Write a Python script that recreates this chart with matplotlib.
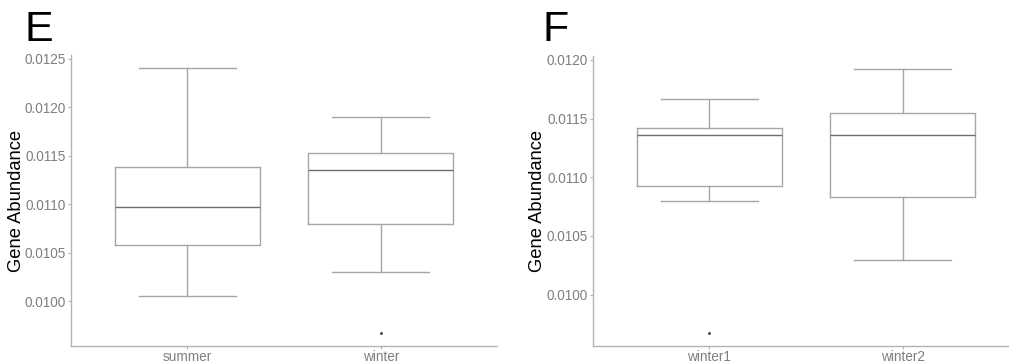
import matplotlib
matplotlib.use("Agg")
import matplotlib.pyplot as plt
from matplotlib.ticker import FormatStrFormatter

plt.rcParams['font.family'] = ['Liberation Sans', 'DejaVu Sans']

# panel E: summer vs winter
e_groups = ["summer", "winter"]
e_whislo = [0.010052, 0.010297]
e_q1 = [0.010578, 0.010792]
e_med = [0.010974, 0.011350]
e_q3 = [0.011381, 0.011532]
e_whishi = [0.012404, 0.011904]
e_fliers = [[], [0.009673]]
e_yticks = [0.0100, 0.0105, 0.0110, 0.0115, 0.0120, 0.0125]

# panel F: winter1 vs winter2
f_groups = ["winter1", "winter2"]
f_whislo = [0.010794, 0.010298]
f_q1 = [0.010925, 0.010828]
f_med = [0.011356, 0.011356]
f_q3 = [0.011419, 0.011546]
f_whishi = [0.011666, 0.011921]
f_fliers = [[0.009674], []]
f_yticks = [0.0100, 0.0105, 0.0110, 0.0115, 0.0120]

BOX = "#a6a6a6"
MED = "#6e6e6e"
AX = "#b3b3b3"
TXT = "#7f7f7f"

W, H = 1009, 363
fig = plt.figure(figsize=(W / 100, H / 100), dpi=100)


def panel(rect, groups, lo, q1, med, q3, hi, fl, yticks, letter, lx):
    ax = fig.add_axes(rect)
    stats = []
    for g, a, b, c, d, e, f in zip(groups, lo, q1, med, q3, hi, fl):
        stats.append(dict(label=g, whislo=a, q1=b, med=c, q3=d, whishi=e, fliers=f))
    ax.bxp(stats, positions=[1, 2], widths=0.75, capwidths=0.5,
           boxprops=dict(color=BOX, lw=1),
           whiskerprops=dict(color=BOX, lw=1),
           capprops=dict(color=BOX, lw=1),
           medianprops=dict(color=MED, lw=1),
           flierprops=dict(marker='o', markersize=1.2, markerfacecolor='#555555',
                           markeredgecolor='#555555'))
    # ggplot-like 5% padding around the data
    allv = lo + hi + [v for f in fl for v in f]
    rng = max(allv) - min(allv)
    ax.set_ylim(min(allv) - 0.05 * rng, max(allv) + 0.05 * rng)
    ax.set_xlim(0.4, 2.6)
    ax.set_yticks(yticks)
    ax.yaxis.set_major_formatter(FormatStrFormatter('%.4f'))
    ax.set_xticks([1, 2])
    ax.set_xticklabels(groups)
    for s in ['top', 'right']:
        ax.spines[s].set_visible(False)
    for s in ['left', 'bottom']:
        ax.spines[s].set_color(AX)
        ax.spines[s].set_linewidth(1)
    ax.tick_params(colors=AX, labelcolor=TXT, labelsize=9.8, length=2, width=0.8, pad=2)
    ax.tick_params(axis='x', pad=1)
    ax.patch.set_visible(False)
    fig.text(rect[0] - 55 / W, rect[1] + rect[3] / 2, "Gene Abundance", rotation=90,
             ha='center', va='center', fontsize=13.2, color='black')
    fig.text(lx / W, 1 - 41 / H, letter, fontsize=31, color='black', ha='left', va='baseline')
    return ax


ax1 = panel([71 / W, 1 - 346 / H, 426 / W, 291 / H], e_groups, e_whislo, e_q1, e_med,
            e_q3, e_whishi, e_fliers, e_yticks, "E", 25)
ax2 = panel([593 / W, 1 - 346 / H, 426 / W, 290 / H], f_groups, f_whislo, f_q1, f_med,
            f_q3, f_whishi, f_fliers, f_yticks, "F", 543)

fig.savefig("out.png", dpi=100)
